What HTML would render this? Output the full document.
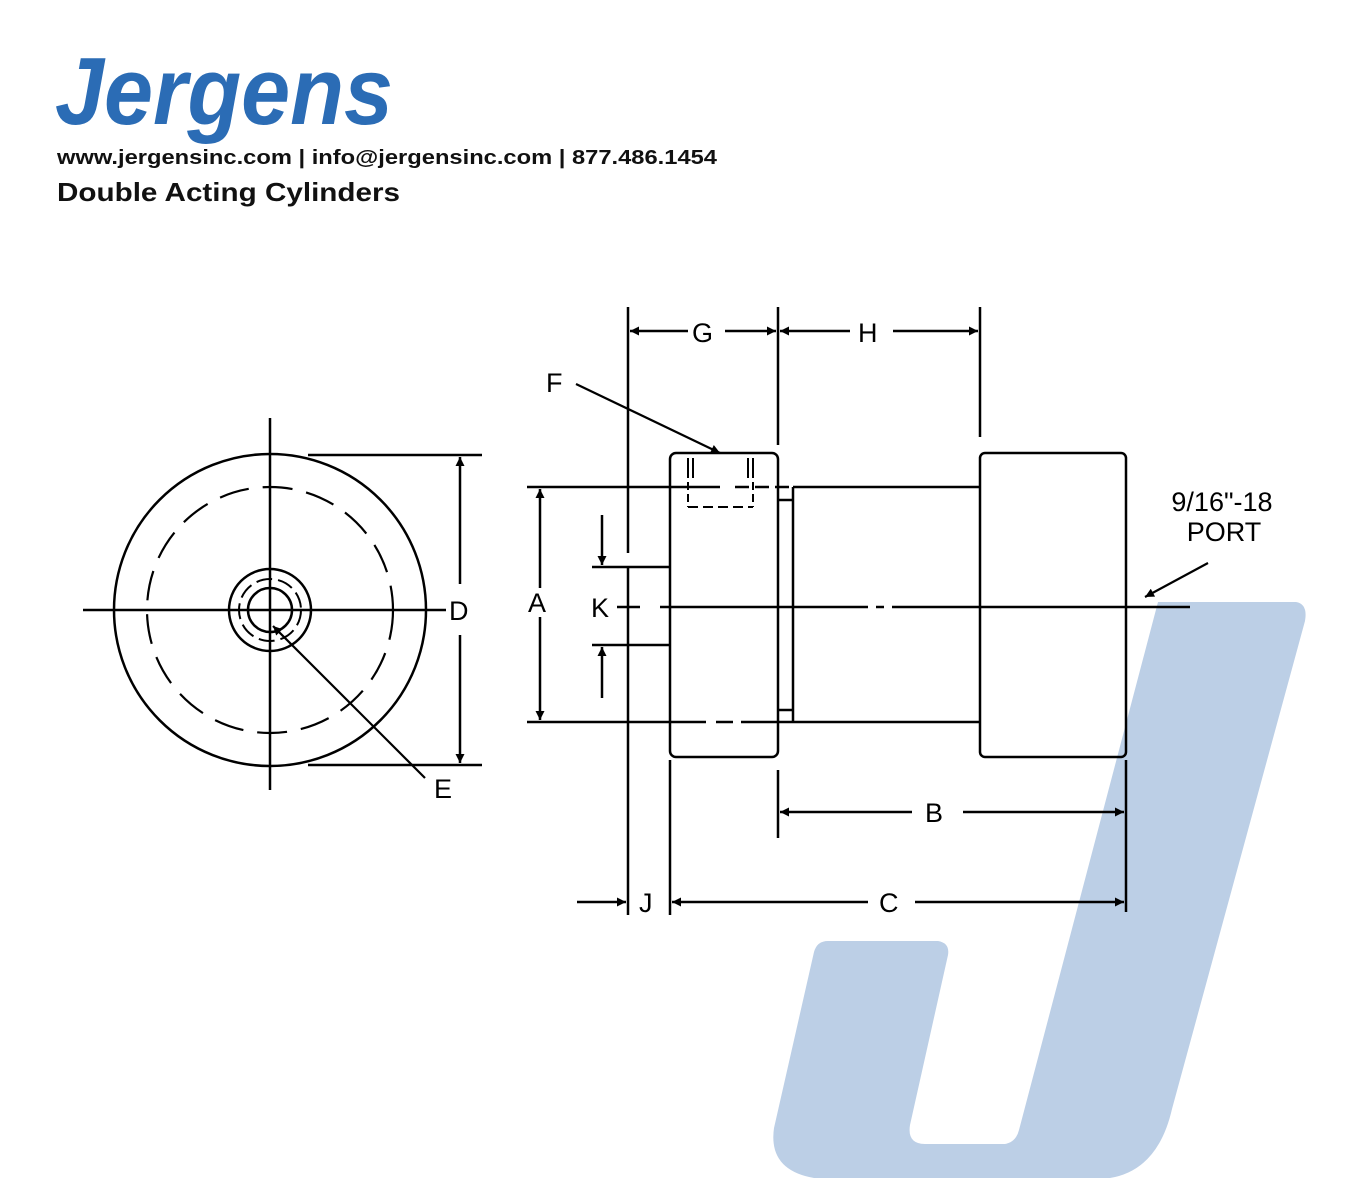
<!DOCTYPE html>
<html><head><meta charset="utf-8"><style>
html,body{margin:0;padding:0;background:#fff;}
svg{display:block;}
text{font-family:"Liberation Sans",Arial,sans-serif;}
</style></head><body>
<svg width="1360" height="1200" viewBox="0 0 1360 1200" xmlns="http://www.w3.org/2000/svg">
<defs>
<marker id="ah" viewBox="0 0 10 10" refX="10" refY="5" markerWidth="20" markerHeight="9" markerUnits="userSpaceOnUse" orient="auto-start-reverse">
<path d="M0,0 L10,5 L0,10 z" fill="#000"/></marker>
</defs>
<path d="M1158,602 L1296,602 Q1308,604 1305,621 L1172,1109 Q1158,1170 1110,1178 L814,1178 Q768,1170 774,1128 L814,952 Q817,941 828,941 L938,941 Q950,943 948,955 L910,1125 Q907,1144 925,1144 L1005,1144 Q1016,1142 1019,1130 Z" fill="#bccfe6"/>

<text x="55" y="124" font-size="96" font-weight="bold" font-style="italic" fill="#2b6cb5" textLength="338" lengthAdjust="spacingAndGlyphs">Jergens</text>
<text x="57" y="164" font-size="20" font-weight="bold" fill="#111" textLength="660" lengthAdjust="spacingAndGlyphs">www.jergensinc.com | info@jergensinc.com | 877.486.1454</text>
<text x="57" y="201" font-size="26" font-weight="bold" fill="#111" textLength="343" lengthAdjust="spacingAndGlyphs">Double Acting Cylinders</text>

<g stroke="#000" stroke-width="2.5" fill="none">
<circle cx="270" cy="610" r="156"/>
<circle cx="270" cy="610" r="123" stroke-dasharray="30,14" stroke-width="2.2"/>
<circle cx="270" cy="610" r="41"/>
<circle cx="270" cy="610" r="31" stroke-dasharray="16,6" stroke-width="2"/>
<circle cx="270" cy="610" r="22"/>
<line x1="270" y1="418" x2="270" y2="790"/>
<line x1="83" y1="610" x2="446" y2="610"/>
<line x1="308" y1="455" x2="482" y2="455"/>
<line x1="308" y1="765" x2="482" y2="765"/>
<line x1="460" y1="584" x2="460" y2="457" marker-end="url(#ah)"/>
<line x1="460" y1="635" x2="460" y2="763" marker-end="url(#ah)"/>
<line x1="425" y1="778" x2="273" y2="626" marker-end="url(#ah)" stroke-width="2.2"/>

<line x1="628" y1="307" x2="628" y2="553"/>
<line x1="628" y1="567" x2="628" y2="915"/>
<line x1="778" y1="307" x2="778" y2="445"/>
<line x1="980" y1="307" x2="980" y2="437"/>
<line x1="688" y1="331" x2="630" y2="331" marker-end="url(#ah)"/>
<line x1="725" y1="331" x2="776" y2="331" marker-end="url(#ah)"/>
<line x1="850" y1="331" x2="780" y2="331" marker-end="url(#ah)"/>
<line x1="893" y1="331" x2="978" y2="331" marker-end="url(#ah)"/>
<line x1="576" y1="384" x2="720" y2="453" marker-end="url(#ah)" stroke-width="2.2"/>
<rect x="670" y="453" width="108" height="304" rx="6"/>
<rect x="980" y="453" width="146" height="304" rx="5"/>
<line x1="793" y1="487" x2="980" y2="487"/>
<line x1="793" y1="722" x2="980" y2="722"/>
<line x1="793" y1="487" x2="793" y2="722"/>
<line x1="778" y1="500" x2="793" y2="500"/>
<line x1="778" y1="710" x2="793" y2="710"/>
<g stroke-width="2">
<line x1="688" y1="458" x2="688" y2="478"/><line x1="693" y1="458" x2="693" y2="478"/>
<line x1="748" y1="458" x2="748" y2="478"/><line x1="753" y1="458" x2="753" y2="478"/>
<line x1="688" y1="482" x2="688" y2="507" stroke-dasharray="8,4"/>
<line x1="753" y1="482" x2="753" y2="507" stroke-dasharray="8,4"/>
<line x1="688" y1="507" x2="753" y2="507" stroke-dasharray="10,5"/>
</g>
<line x1="527" y1="487" x2="720" y2="487"/>
<line x1="735" y1="487" x2="793" y2="487" stroke-dasharray="14,6"/>
<line x1="527" y1="722" x2="706" y2="722"/>
<line x1="716" y1="722" x2="733" y2="722"/>
<line x1="741" y1="722" x2="793" y2="722"/>
<line x1="540" y1="588" x2="540" y2="489" marker-end="url(#ah)"/>
<line x1="540" y1="617" x2="540" y2="720" marker-end="url(#ah)"/>
<line x1="592" y1="567" x2="670" y2="567"/>
<line x1="592" y1="645" x2="670" y2="645"/>
<line x1="602" y1="515" x2="602" y2="565" marker-end="url(#ah)"/>
<line x1="602" y1="698" x2="602" y2="647" marker-end="url(#ah)"/>
<line x1="617" y1="607" x2="640" y2="607"/>
<line x1="660" y1="607" x2="868" y2="607"/>
<line x1="876" y1="607" x2="884" y2="607"/>
<line x1="892" y1="607" x2="1190" y2="607"/>
<line x1="778" y1="770" x2="778" y2="838"/>
<line x1="1126" y1="760" x2="1126" y2="912"/>
<line x1="912" y1="812" x2="780" y2="812" marker-end="url(#ah)"/>
<line x1="963" y1="812" x2="1124" y2="812" marker-end="url(#ah)"/>
<line x1="670" y1="760" x2="670" y2="915"/>
<line x1="868" y1="902" x2="672" y2="902" marker-end="url(#ah)"/>
<line x1="915" y1="902" x2="1124" y2="902" marker-end="url(#ah)"/>
<line x1="577" y1="902" x2="626" y2="902" marker-end="url(#ah)"/>
<line x1="1208" y1="563" x2="1145" y2="597" marker-end="url(#ah)" stroke-width="2.2"/>
</g>

<g font-size="27" fill="#000">
<text x="449" y="620">D</text>
<text x="434" y="798">E</text>
<text x="546" y="392">F</text>
<text x="692" y="342">G</text>
<text x="858" y="342">H</text>
<text x="528" y="612">A</text>
<text x="591" y="617">K</text>
<text x="925" y="822">B</text>
<text x="879" y="912">C</text>
<text x="639" y="912">J</text>
<text x="1222" y="511" text-anchor="middle">9/16"-18</text>
<text x="1224" y="541" text-anchor="middle">PORT</text>
</g>
</svg>
</body></html>
